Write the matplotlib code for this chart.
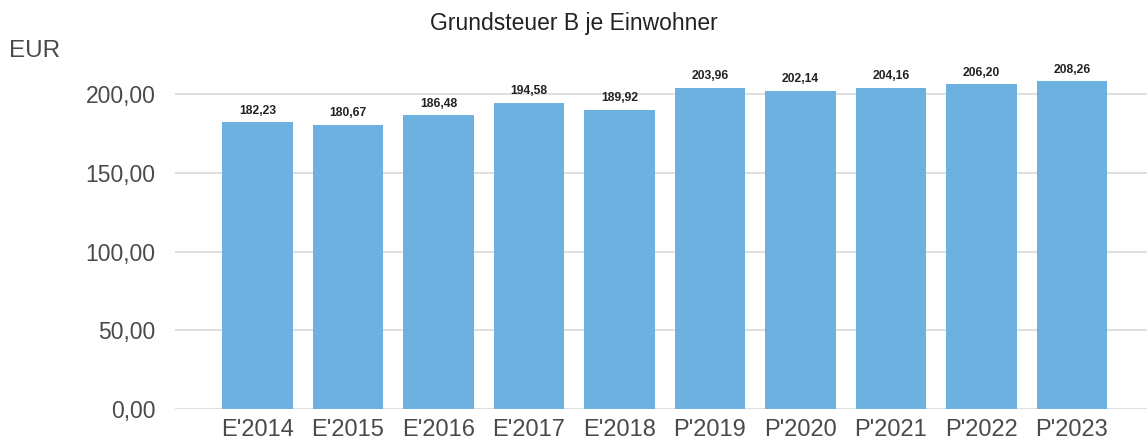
import matplotlib.pyplot as plt
import numpy as np

jahre = ["E'2014", "E'2015", "E'2016", "E'2017", "E'2018",
         "P'2019", "P'2020", "P'2021", "P'2022", "P'2023"]
werte = [182.23, 180.67, 186.48, 194.58, 189.92,
         203.96, 202.14, 204.16, 206.20, 208.26]
ticks = [0, 50, 100, 150, 200]

plt.rcParams['font.family'] = ['Liberation Sans', 'DejaVu Sans']

fig = plt.figure(figsize=(11.47, 4.47), dpi=100)
ax = fig.add_axes([0.1526, 0.085, 0.8474, 0.775])

x = np.arange(len(jahre))
ax.bar(x, werte, width=0.78, color='#6db1e1', zorder=3)

def fmt(v):
    return ('%.2f' % v).replace('.', ',')

for xi, v in zip(x, werte):
    ax.text(xi, v + 3.5, fmt(v), ha='center', va='bottom', fontsize=8.7,
            fontweight='bold', color='#222222', zorder=4)

ax.set_xlim(-0.91, 9.83)
ax.set_ylim(0, 220)
ax.set_yticks(ticks)
ax.set_yticklabels([fmt(t) for t in ticks], fontsize=16.5, color='#4a4a4a')
ax.set_xticks(x)
ax.set_xticklabels(jahre, fontsize=17, color='#4a4a4a')
ax.yaxis.grid(True, color='#d9d9d9', linewidth=1.2, zorder=0)
ax.tick_params(axis='y', length=0, pad=14)
ax.tick_params(axis='x', length=0, pad=7)
for s in ax.spines.values():
    s.set_visible(False)

fig.text(0.5, 0.948, 'Grundsteuer B je Einwohner', ha='center', va='center',
         fontsize=16.5, color='#222222')
fig.text(0.008, 0.885, 'EUR', ha='left', va='center', fontsize=17.5, color='#4a4a4a')

fig.savefig('out.png', dpi=100)
